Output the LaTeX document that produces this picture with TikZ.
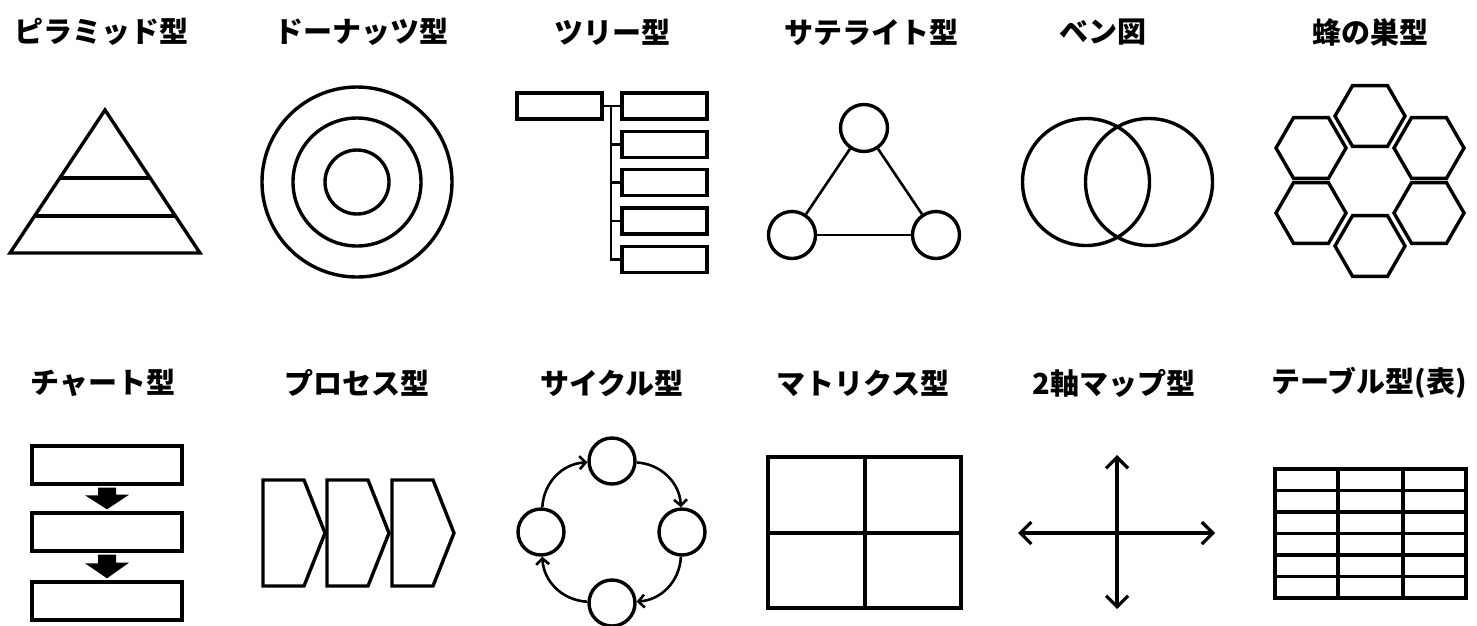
\documentclass[tikz,border=0pt]{standalone}
\usepackage{fontspec}
\newfontfamily\jp{Noto Sans CJK JP}
\usetikzlibrary{shapes.geometric,arrows.meta,calc}
\begin{document}
\begin{tikzpicture}[x=1pt,y=-1pt,
  lbl/.style={font=\jp\bfseries\fontsize{29}{32}\selectfont, inner sep=0pt, anchor=center},
  sh/.style={line width=3.4pt, line join=miter},
  thin/.style={line width=2.6pt},
  box/.style={draw, sh, rectangle, inner sep=0pt},
  circ/.style={draw, sh, circle, inner sep=0pt},
  hexa/.style={draw, sh, regular polygon, regular polygon sides=6, minimum size=70pt, inner sep=0pt},
  bigarrow/.style={line width=3.2pt, {Straight Barb[length=11pt,width=22pt]}-{Straight Barb[length=11pt,width=22pt]}},
  cyc/.style={thin, -{Straight Barb[length=6pt,width=13pt]}}
]
\useasboundingbox (0,0) rectangle (1477,625);
\fill[white] (0,0) rectangle (1477,625);

% ---------- labels ----------
\node[lbl] (t1) at (101,32) {ピラミッド型};
\node[lbl] (t2) at (361,32) {ドーナッツ型};
\node[lbl] (t3) at (612,32) {ツリー型};
\node[lbl] (t4) at (871,32) {サテライト型};
\node[lbl] (t5) at (1103,32) {ベン図};
\node[lbl] (t6) at (1370,32) {蜂の巣型};
\node[lbl] (t7) at (103,383) {チャート型};
\node[lbl] (t8) at (357,383) {プロセス型};
\node[lbl] (t9) at (612,383) {サイクル型};
\node[lbl] (t10) at (863,383) {マトリクス型};
\node[lbl] (t11) at (1114,383) {2軸マップ型};
\node[lbl] (t12) at (1369,383) {テーブル型(表)};

% ---------- pyramid ----------
\draw[sh] (105,110) -- (200,253) -- (10,253) -- cycle;
\draw[sh] (60,178) -- (150,178);
\draw[sh] (35,216) -- (175,216);

% ---------- donut ----------
\node[circ, minimum size=190pt] (d1) at (357,182) {};
\node[circ, minimum size=128pt] (d2) at (357,182) {};
\node[circ, minimum size=64pt] (d3) at (357,182) {};

% ---------- tree ----------
\node[box, minimum width=85pt, minimum height=26pt] (root) at (559.5,106) {};
\foreach \i/\y in {1/106,2/144.5,3/182.5,4/221,5/259.5}{
  \node[box, minimum width=85pt, minimum height=26pt] (c\i) at (664.5,\y) {};
}
\coordinate (tj) at (611,106);
\draw[thin] (root.east) -- (c1.west);
\draw[thin] (tj) |- (c5.west);
\draw[thin] (tj |- c2.west) -- (c2.west);
\draw[thin] (tj |- c3.west) -- (c3.west);
\draw[thin] (tj |- c4.west) -- (c4.west);

% ---------- satellite ----------
\node[circ, minimum size=47pt] (s1) at (864,128) {};
\node[circ, minimum size=47pt] (s2) at (792,235) {};
\node[circ, minimum size=47pt] (s3) at (936,235) {};
\draw[thin] (s1) -- (s2);
\draw[thin] (s1) -- (s3);
\draw[thin] (s2) -- (s3);

% ---------- venn ----------
\node[circ, minimum size=127pt] (v1) at (1086,182) {};
\node[circ, minimum size=127pt] (v2) at (1149,182) {};

% ---------- honeycomb ----------
\node[hexa] (h1) at (1370,116) {};
\node[hexa] (h2) at (1311,148) {};
\node[hexa] (h3) at (1429,148) {};
\node[hexa] (h4) at (1311,213) {};
\node[hexa] (h5) at (1429,213) {};
\node[hexa] (h6) at (1370,246) {};

% ---------- chart ----------
\node[box, minimum width=150pt, minimum height=38pt] (k1) at (107,465) {};
\node[box, minimum width=150pt, minimum height=38pt] (k2) at (107,532) {};
\node[box, minimum width=150pt, minimum height=38pt] (k3) at (107,601) {};
\fill ($(k1.south)+(-9,2)$) -- ++(18,0) -- ++(0,7) -- ++(13,0) -- ($(k2.north)+(0,-2)$) -- ++(-22,-14) -- ++(13,0) -- cycle;
\fill ($(k2.south)+(-9,2)$) -- ++(18,0) -- ++(0,8) -- ++(13,0) -- ($(k3.north)+(0,-2)$) -- ++(-22,-15) -- ++(13,0) -- cycle;

% ---------- process ----------
\foreach \L/\n in {263/p1,327/p2,392/p3}{
  \draw[sh] (\L,480) -- ++(41,0) -- ++(21,53) -- ++(-21,53) -- ++(-41,0) -- cycle;
}

% ---------- cycle ----------
\node[circ, minimum size=46pt] (y1) at (612,461) {};
\node[circ, minimum size=46pt] (y2) at (682,532) {};
\node[circ, minimum size=46pt] (y3) at (612,603) {};
\node[circ, minimum size=46pt] (y4) at (541,532) {};
\draw[cyc] (y1) to[bend left=42] (y2);
\draw[cyc] (y2) to[bend left=42] (y3);
\draw[cyc] (y3) to[bend left=42] (y4);
\draw[cyc] (y4) to[bend left=42] (y1);

% ---------- matrix ----------
\draw[sh] (768,457) rectangle (961,608);
\draw[sh] (865,457) -- (865,608);
\draw[sh] (768,533) -- (961,533);

% ---------- 2-axis map ----------
\coordinate (ax1) at (1117,455);
\coordinate (ax2) at (1117,609);
\coordinate (ax3) at (1018,533);
\coordinate (ax4) at (1215,533);
\draw[bigarrow] (ax2) -- (ax1);
\draw[bigarrow] (ax3) -- (ax4);

% ---------- table ----------
\draw[sh] (1275,469) rectangle (1466,598);
\draw[sh] (1338,469) -- (1338,598);
\draw[sh] (1403,469) -- (1403,598);
\foreach \y in {490.5,512,533.5,555,576.5}{
  \draw[sh] (1275,\y) -- (1466,\y);
}
\end{tikzpicture}
\end{document}
